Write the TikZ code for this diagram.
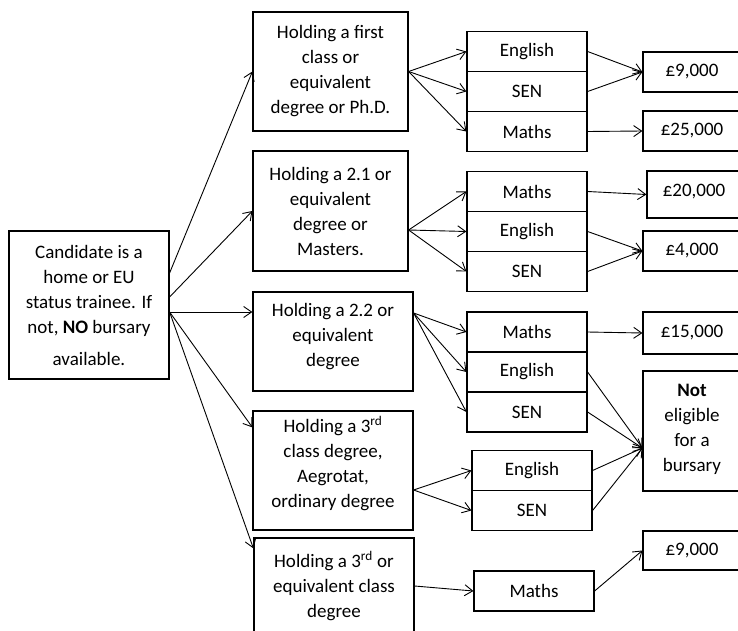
\documentclass[tikz,border=0pt]{standalone}
\usepackage{fontspec}
\setmainfont{Carlito}
\usetikzlibrary{arrows.meta}
\begin{document}
\begin{tikzpicture}[x=1pt, y=-1pt,
    txt/.style={font=\fontsize{19}{25}\selectfont},
    degreebox/.style={draw, txt, line width=1.2pt, align=center, inner sep=0pt, minimum width=155pt, minimum height=119pt},
    subjbox/.style={draw, txt, line width=1.2pt, inner sep=0pt, minimum width=120pt, minimum height=40pt},
    sumbox/.style={draw, txt, line width=1.2pt, align=center, inner sep=0pt, minimum width=98pt, minimum height=40pt},
    arr/.style={line width=0.9pt, -{Straight Barb[length=8pt,width=11pt]}}]

        \useasboundingbox (0,0) rectangle (738,631);
        \clip (0,0) rectangle (738,631);

        \node[degreebox, minimum width=160pt, minimum height=148pt] (cand) at (89,305) {Candidate is a\\ home or EU\\ status trainee. If\\ not, \textbf{NO} bursary\\[7pt] available.};

        \node[degreebox] (first) at (330.5,71.5) {Holding a first\\ class or\\ equivalent\\ degree or Ph.D.};
        \node[degreebox, minimum height=120pt] (upper) at (330.5,211) {Holding a 2.1 or\\ equivalent\\ degree or\\ Masters.};
        \node[degreebox, minimum width=160pt, minimum height=99pt] (lower) at (333,341.5) {Holding a 2.2 or\\ equivalent\\ degree\\[-12pt]};
        \node[degreebox, minimum width=160pt] (third) at (333,470.5) {Holding a 3\textsuperscript{rd}\\ class degree,\\ Aegrotat,\\ ordinary degree\\[-8pt]};
        \node[degreebox, minimum width=160pt, minimum height=96pt] (ordinary) at (334,586) {Holding a 3\textsuperscript{rd} or\\ equivalent class\\ degree};

        \node[subjbox] (eng1) at (527,51.5) {English};
        \node[subjbox] (sen1) at (527,91.5) {SEN};
        \node[subjbox] (mat1) at (527,131.5) {Maths};

        \node[subjbox] (mat2) at (527,191.5) {Maths};
        \node[subjbox] (eng2) at (527,231.5) {English};
        \node[subjbox] (sen2) at (527,271.5) {SEN};

        \node[subjbox] (mat3) at (527,332) {Maths};
        \node[subjbox] (eng3) at (527,372) {English};
        \node[subjbox] (sen3) at (527,412) {SEN};

        \node[subjbox] (eng4) at (532,470.5) {English};
        \node[subjbox] (sen4) at (532,510.5) {SEN};

        \node[subjbox] (mat5) at (534,591) {Maths};

        \node[sumbox] (nine) at (692,72) {£9,000};
        \node[sumbox] (twentyfive) at (692,131) {£25,000};
        \node[sumbox, minimum width=94pt, minimum height=47pt] (twenty) at (694,194.5) {£20,000\\[-16pt]};
        \node[sumbox] (four) at (692,251) {£4,000};
        \node[sumbox, minimum height=42pt] (fifteen) at (692,333) {£15,000};
        \node[sumbox, minimum height=120pt] (none) at (692,431) {\textbf{Not}\\ eligible\\ for a\\ bursary\\[-18pt]};
        \node[sumbox, minimum height=39pt] (ninelow) at (692,550.5) {£9,000};

        \coordinate (candup) at ([yshift=32pt]cand.east);
        \coordinate (candmid) at ([yshift=8pt]cand.east);
        \coordinate (candlow) at ([yshift=-7pt]cand.east);
        \coordinate (upperout) at ([yshift=-19pt]upper.east);
        \coordinate (lowerout) at ([yshift=28.5pt]lower.east);
        \coordinate (thirdout) at ([yshift=-19.5pt]third.east);
        \coordinate (nonein) at ([yshift=-17pt]none.west);

        \draw[arr] (candup) -- (first.west);
        \draw[arr] (candmid) -- (upper.west);
        \draw[arr] (candlow) -- ([yshift=29.5pt]lower.west);
        \draw[arr] (candlow) -- ([yshift=-17pt]third.north west);
        \draw[arr] (candlow) -- ([yshift=-11pt]ordinary.north west);

        \draw[arr] (first.east) -- (eng1.west);
        \draw[arr] (first.east) -- (sen1.west);
        \draw[arr] (first.east) -- (mat1.west);
        \draw[arr] (eng1.east) -- (nine.west);
        \draw[arr] (sen1.east) -- (nine.west);
        \draw[arr] (mat1.east) -- (twentyfive.west);

        \draw[arr] (upperout) -- (mat2.west);
        \draw[arr] (upperout) -- (eng2.west);
        \draw[arr] (upperout) -- (sen2.west);
        \draw[arr] (mat2.east) -- (twenty.west);
        \draw[arr] (eng2.east) -- (four.west);
        \draw[arr] (sen2.east) -- (four.west);

        \draw[arr] (lowerout) -- (mat3.west);
        \draw[arr] (lowerout) -- (eng3.west);
        \draw[arr] (lowerout) -- (sen3.west);
        \draw[arr] (mat3.east) -- (fifteen.west);
        \draw[arr] (eng3.east) -- (nonein);
        \draw[arr] (sen3.east) -- (nonein);

        \draw[arr] (thirdout) -- (eng4.west);
        \draw[arr] (thirdout) -- (sen4.west);
        \draw[arr] (eng4.east) -- (nonein);
        \draw[arr] (sen4.east) -- (nonein);

        \draw[arr] (ordinary.east) -- (mat5.west);
        \draw[arr] (mat5.east) -- (ninelow.west);
    \end{tikzpicture}
\end{document}
